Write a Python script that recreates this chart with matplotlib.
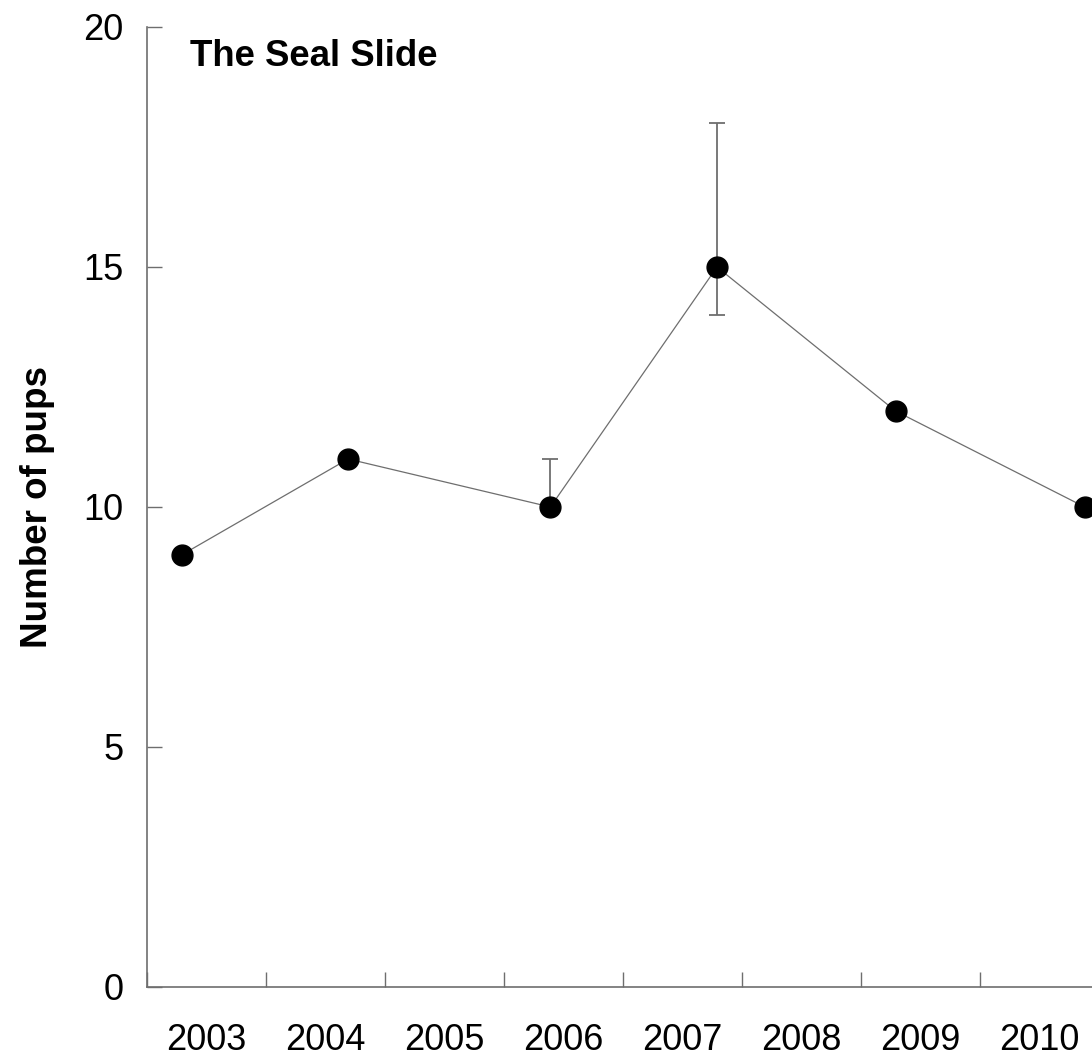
import matplotlib
matplotlib.use("Agg")
import matplotlib.pyplot as plt
import numpy as np

plt.rcParams['font.family'] = ['Liberation Sans', 'DejaVu Sans']

# Survey dates (fractional years) and pup counts
survey_time = [2003.29, 2004.69, 2006.39, 2007.79, 2009.29, 2010.88]
pups = [9, 11, 10, 15, 12, 10]
err_low = [0, 0, 0, 1, 0, 0]
err_high = [0, 0, 1, 3, 0, 0]

years = [2003, 2004, 2005, 2006, 2007, 2008, 2009, 2010]
year_labels = [str(y) for y in years]
y_ticks = [0, 5, 10, 15, 20]

W, H = 1092, 1060
fig = plt.figure(figsize=(W / 100, H / 100), dpi=100)
left, bottom, top = 147, 987, 27
px_per_year = 119
ax = fig.add_axes([left / W, (H - bottom) / H,
                   8 * px_per_year / W, (bottom - top) / H])

gray = '#6e6e6e'
ax.plot(survey_time, pups, color=gray, lw=0.9, zorder=2)
has_err = [i for i in range(len(pups)) if err_low[i] or err_high[i]]
ax.errorbar([survey_time[i] for i in has_err], [pups[i] for i in has_err],
            yerr=[[err_low[i] for i in has_err], [err_high[i] for i in has_err]],
            fmt='none', ecolor=gray, elinewidth=1.3, capsize=5.5, capthick=1.3, zorder=2)
ax.plot(survey_time, pups, 'o', color='black', markersize=15, zorder=3)

ax.set_xlim(2003, 2011)
ax.set_ylim(0, 20)

for s in ['top', 'right']:
    ax.spines[s].set_visible(False)
for s in ['left', 'bottom']:
    ax.spines[s].set_color(gray)
    ax.spines[s].set_linewidth(1.2)

ax.set_xticks(years + [2011])
ax.set_xticklabels([])
ax.set_xticks([y + 0.5 for y in years], minor=True)
ax.set_xticklabels(year_labels, minor=True, fontsize=26)
ax.tick_params(axis='x', which='major', direction='in', length=11, width=1, color=gray)
ax.tick_params(axis='x', which='minor', length=0, pad=26)

ax.set_yticks(y_ticks)
ax.set_yticklabels([str(v) for v in y_ticks], fontsize=26)
ax.tick_params(axis='y', direction='in', length=10.5, width=1, color=gray, pad=17)

ax.set_ylabel('Number of pups', fontsize=26.5, fontweight='bold', labelpad=20)
ax.text(190 / W, 1 - 56 / H, 'The Seal Slide', transform=fig.transFigure,
        fontsize=26.4, fontweight='bold', ha='left', va='center')

fig.savefig('out.png', dpi=100)
